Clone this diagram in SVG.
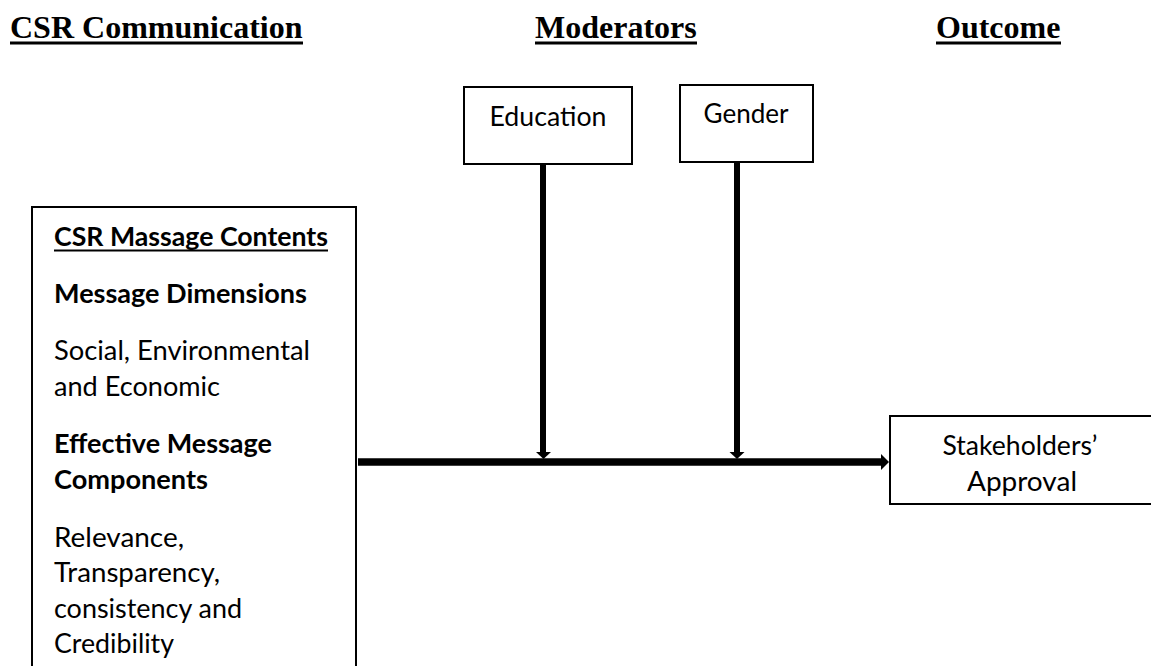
<svg xmlns="http://www.w3.org/2000/svg" width="1151" height="666" viewBox="0 0 1151 666">
  <style>
    .head { font-family: "Liberation Serif", "Times New Roman", serif; font-weight: bold; font-size: 32px; fill: #000; }
    .body { font-family: Lato, "Open Sans", "Liberation Sans", sans-serif; font-size: 26px; fill: #000; }
    .bold { font-weight: bold; }
    .box { fill: #fff; stroke: #000; stroke-width: 2; }
    .rule { fill: #000; }
    .conn { stroke: #000; fill: none; }
  </style>

  <!-- column headings -->
  <g id="headings">
    <text class="head" x="10" y="38">CSR Communication</text>
    <rect class="rule" x="10" y="41.5" width="293" height="3"/>
    <text class="head" x="535" y="38">Moderators</text>
    <rect class="rule" x="535" y="41.5" width="162" height="3"/>
    <text class="head" x="936" y="38">Outcome</text>
    <rect class="rule" x="936" y="41.5" width="125" height="3"/>
  </g>

  <!-- message contents -->
  <g id="csr-contents">
    <rect class="box" x="32" y="207" width="324" height="480"/>
    <text class="body bold" x="54" y="246" textLength="274" lengthAdjust="spacingAndGlyphs">CSR Massage Contents</text>
    <rect class="rule" x="54" y="249.5" width="274" height="2"/>
    <text class="body bold" x="54" y="303" textLength="253" lengthAdjust="spacingAndGlyphs">Message Dimensions</text>
    <text class="body" x="54" y="360" textLength="256" lengthAdjust="spacingAndGlyphs">Social, Environmental</text>
    <text class="body" x="54" y="396" textLength="166" lengthAdjust="spacingAndGlyphs">and Economic</text>
    <text class="body bold" x="54" y="453" textLength="218" lengthAdjust="spacingAndGlyphs">Effective Message</text>
    <text class="body bold" x="54" y="489" textLength="154" lengthAdjust="spacingAndGlyphs">Components</text>
    <text class="body" x="54" y="547" textLength="130" lengthAdjust="spacingAndGlyphs">Relevance,</text>
    <text class="body" x="54" y="582" textLength="166" lengthAdjust="spacingAndGlyphs">Transparency,</text>
    <text class="body" x="54" y="618" textLength="188" lengthAdjust="spacingAndGlyphs">consistency and</text>
    <text class="body" x="54" y="653" textLength="120" lengthAdjust="spacingAndGlyphs">Credibility</text>
  </g>

  <!-- moderators -->
  <g id="education">
    <rect class="box" x="464" y="87" width="168" height="77"/>
    <text class="body" x="548" y="126" text-anchor="middle" textLength="117" lengthAdjust="spacingAndGlyphs">Education</text>
  </g>
  <g id="gender">
    <rect class="box" x="680" y="85" width="133" height="77"/>
    <text class="body" x="746" y="123" text-anchor="middle" textLength="85" lengthAdjust="spacingAndGlyphs">Gender</text>
  </g>

  <!-- outcome -->
  <g id="approval">
    <rect class="box" x="890" y="416" width="270" height="88"/>
    <text class="body" x="1020" y="455" text-anchor="middle" textLength="155" lengthAdjust="spacingAndGlyphs">Stakeholders’</text>
    <text class="body" x="1022" y="491" text-anchor="middle" textLength="110" lengthAdjust="spacingAndGlyphs">Approval</text>
  </g>

  <!-- connectors: two moderator arrows into the main path, main path into the outcome -->
  <g id="connectors">
    <line class="conn" x1="543" y1="165" x2="543" y2="452" stroke-width="6"/>
    <path d="M536,452 L551,452 L543.5,459 Z" fill="#000"/>
    <line class="conn" x1="737" y1="163" x2="737" y2="452" stroke-width="6"/>
    <path d="M729.5,452 L744.5,452 L737,459 Z" fill="#000"/>
    <line class="conn" x1="358" y1="462" x2="882" y2="462" stroke-width="7.5"/>
    <path d="M881,454 L889,462 L881,470 Z" fill="#000"/>
  </g>
</svg>
